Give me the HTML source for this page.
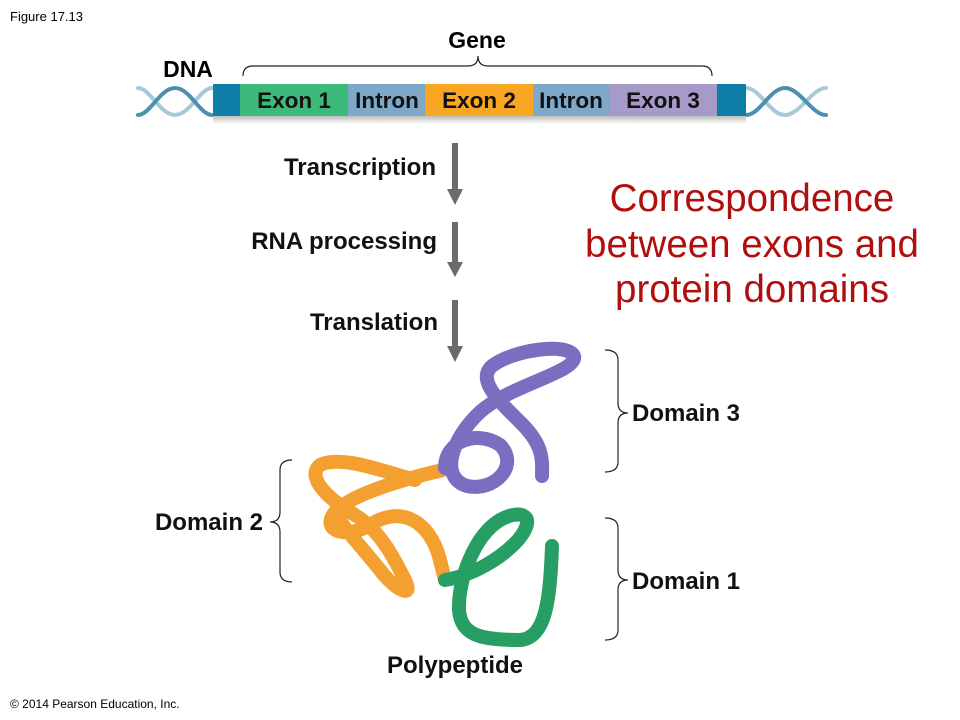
<!DOCTYPE html>
<html><head><style>
body{margin:0;background:#fff;}
svg{display:block;}
text{font-family:"Liberation Sans",sans-serif;}
</style></head><body>
<svg width="960" height="720" viewBox="0 0 960 720" xmlns="http://www.w3.org/2000/svg">
<defs>
<linearGradient id="sh" x1="0" y1="0" x2="0" y2="1"><stop offset="0" stop-color="#bbb"/><stop offset="1" stop-color="#fff"/></linearGradient>
</defs>
<text x="10" y="21" font-size="13" fill="#000">Figure 17.13</text>
<text x="10" y="708" font-size="12" fill="#000">© 2014 Pearson Education, Inc.</text>
<text x="477" y="48" font-size="23" font-weight="bold" text-anchor="middle">Gene</text>
<text x="188" y="77" font-size="23" font-weight="bold" text-anchor="middle">DNA</text>
<path d="M243,76 Q243,66 253,66 L468,66 Q478,66 478,56 Q478,66 488,66 L702,66 Q712,66 712,76" fill="none" stroke="#222" stroke-width="1.2"/>
<g fill="none" stroke-width="4" stroke-linecap="round">
<path d="M138,88 C150,88 160,115 175,115 C190,115 200,88 212,88" stroke="#a9c9d8"/>
<path d="M138,115 C150,115 160,88 175,88 C190,88 200,115 212,115" stroke="#4e8fae"/>
<path d="M746,88 C760,88 770,115 785,115 C800,115 812,88 826,88" stroke="#a9c9d8"/>
<path d="M746,115 C760,115 770,88 785,88 C800,88 812,115 826,115" stroke="#4e8fae"/>
</g>
<rect x="213" y="116" width="533" height="8" fill="url(#sh)"/>
<rect x="213" y="84" width="533" height="32" fill="#0e7ea6"/>
<rect x="240" y="84" width="108" height="32" fill="#3dba7a"/>
<rect x="348" y="84" width="77" height="32" fill="#7ea8c8"/>
<rect x="425" y="84" width="108" height="32" fill="#f9a623"/>
<rect x="533" y="84" width="77" height="32" fill="#7ea8c8"/>
<rect x="610" y="84" width="107" height="32" fill="#a69bc8"/>
<g font-size="22.5" font-weight="bold" fill="#111" text-anchor="middle">
<text x="294" y="108">Exon 1</text>
<text x="387" y="108">Intron</text>
<text x="479" y="108">Exon 2</text>
<text x="571" y="108">Intron</text>
<text x="663" y="108">Exon 3</text>
</g>
<g font-size="24" font-weight="bold" fill="#111" text-anchor="end">
<text x="436" y="175">Transcription</text>
<text x="437" y="249">RNA processing</text>
<text x="438" y="330">Translation</text>
</g>
<g fill="#6b6b68">
<rect x="452" y="143" width="6" height="48"/><path d="M447,189 L463,189 L455,205Z"/>
<rect x="452" y="222" width="6" height="42"/><path d="M447,262 L463,262 L455,277Z"/>
<rect x="452" y="300" width="6" height="48"/><path d="M447,346 L463,346 L455,362Z"/>
</g>
<g font-size="38.5" fill="#b00f0f" text-anchor="middle">
<text x="752" y="211">Correspondence</text>
<text x="752" y="257">between exons and</text>
<text x="752" y="302">protein domains</text>
</g>
<g fill="none" stroke="#222" stroke-width="1.2">
<path d="M605,350 Q618,350 618,360 L618,403 Q618,413 628,413 Q618,413 618,423 L618,462 Q618,472 605,472"/>
<path d="M605,518 Q618,518 618,528 L618,570 Q618,580 628,580 Q618,580 618,590 L618,630 Q618,640 605,640"/>
<path d="M292,460 Q280,460 280,470 L280,512 Q280,522 270,522 Q280,522 280,532 L280,572 Q280,582 292,582"/>
</g>
<g font-size="24" font-weight="bold" fill="#111">
<text x="632" y="421">Domain 3</text>
<text x="632" y="589">Domain 1</text>
<text x="263" y="530" text-anchor="end">Domain 2</text>
<text x="455" y="673" text-anchor="middle">Polypeptide</text>
</g>
<g fill="none" stroke-linecap="round" stroke-linejoin="round">
<g stroke="#f4a030" stroke-width="14">
<path d="M443,470 C400,480 350,495 335,512 C320,530 345,540 370,525 C400,505 430,520 440,560 L445,580"/>
<path d="M415,480 C380,470 340,455 320,465 C305,478 330,500 355,515 C380,530 395,560 405,580 C415,600 395,590 380,570 C360,545 345,530 340,520"/>
</g>
<g stroke="#7b6ec0" stroke-width="14">
<path d="M445,468 C445,440 478,430 500,445 C520,465 495,492 467,486 C440,478 450,440 480,412 C510,385 578,372 574,356 C568,342 512,350 492,366 C476,380 500,402 520,422 C545,446 542,462 542,476"/>
</g>
<g stroke="#279e63" stroke-width="14">
<path d="M445,580 C470,576 500,560 518,540 C538,516 522,508 500,520 C474,536 458,580 459,610 C461,636 482,640 520,640 C546,638 550,600 552,546"/>
</g>
</g>
</svg>
</body></html>
